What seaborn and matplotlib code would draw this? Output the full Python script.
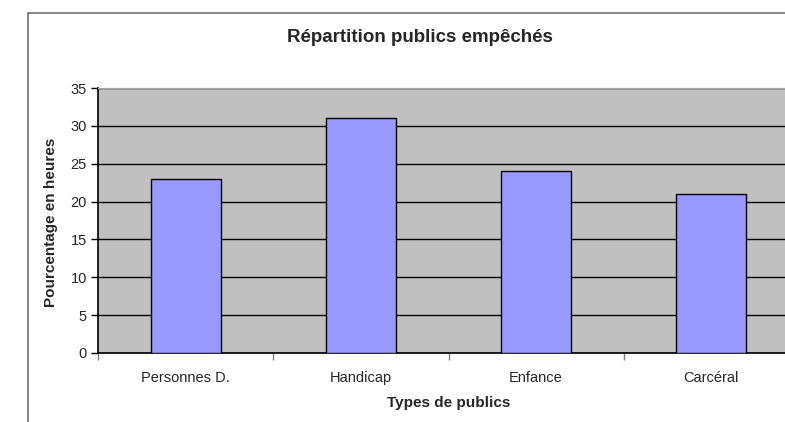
import matplotlib
matplotlib.use("Agg")
import matplotlib.pyplot as plt
from matplotlib.lines import Line2D
import seaborn as sns
import pandas as pd

# data
categories = ["Personnes D.", "Handicap", "Enfance", "Carcéral"]
values = [23, 31, 24, 21]

df = pd.DataFrame({"type": categories, "pct": values})

sns.set_style("white")
plt.rcParams['font.family'] = ['Liberation Sans', 'DejaVu Sans']

fig = plt.figure(figsize=(7.85, 4.22), dpi=100)
ax = fig.add_axes([98 / 785, 69 / 422, 701 / 785, 265 / 422])
ax.set_facecolor("#C0C0C0")

sns.barplot(data=df, x="type", y="pct", color="#9999FF", width=0.4,
            edgecolor="black", linewidth=1, saturation=1, ax=ax, zorder=3)

ax.set_ylim(0, 35)
ax.set_xlim(-0.5, 3.5)
ax.set_yticks(range(0, 36, 5))
ax.yaxis.grid(True, color="black", linewidth=1)
ax.set_axisbelow(True)

# ticks: y outward, x only between categories
ax.tick_params(axis="y", direction="out", length=5, width=1, color="black",
               labelsize=10.5, pad=3, left=True)
ax.tick_params(axis="x", which="major", length=0, labelsize=10.5, pad=13)
ax.set_xticks([-0.5, 0.5, 1.5, 2.5, 3.5], minor=True)
ax.tick_params(axis="x", which="minor", direction="out", length=5, width=1,
               color="#808080", bottom=True)

for s in ["left", "bottom"]:
    ax.spines[s].set_color("black")
    ax.spines[s].set_linewidth(1.2)
ax.spines["top"].set_color("#a0a0a0")
ax.spines["right"].set_visible(False)

ax.set_xlabel("")
ax.set_ylabel("")
fig.text(420 / 785, 1 - 38 / 422, "Répartition publics empêchés",
         ha="center", va="center", fontsize=13.5, fontweight="bold")
fig.text(51 / 785, 1 - 222 / 422, "Pourcentage en heures", rotation=90,
         ha="center", va="center", fontsize=11, fontweight="bold")
fig.text(449 / 785, 1 - 403 / 422, "Types de publics",
         ha="center", va="center", fontsize=11, fontweight="bold")

# outer chart frame (partly visible)
fig.add_artist(Line2D([28 / 785, 28 / 785], [0, 1 - 13 / 422],
                      color="#707070", linewidth=1.2))
fig.add_artist(Line2D([28 / 785, 1], [1 - 13 / 422, 1 - 13 / 422],
                      color="#707070", linewidth=1.2))

fig.savefig("out.png", dpi=100)
